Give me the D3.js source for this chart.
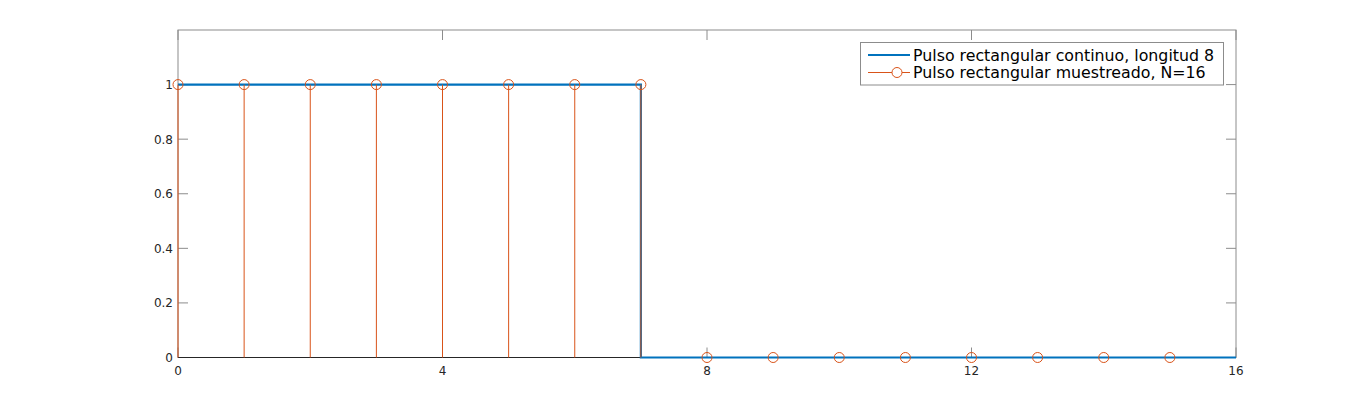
<!DOCTYPE html>
<html><head><meta charset="utf-8">
<script src="https://cdn.jsdelivr.net/npm/d3@7"></script>
<style>body{margin:0;background:#fff}svg{display:block}text{font-family:"DejaVu Sans",sans-serif}</style>
</head><body><svg id="c" width="1366" height="402"></svg>
<script>
// continuous pulse (step outline)
const contX = [0, 7, 7, 16];
const contY = [1, 1, 0, 0];
// sampled pulse, N=16
const sampN = [0,1,2,3,4,5,6,7,8,9,10,11,12,13,14,15];
const sampV = [1,1,1,1,1,1,1,1,0,0,0,0,0,0,0,0];
const xTicks = [0,4,8,12,16];
const yTicks = [0,0.2,0.4,0.6,0.8,1];
const legendLabels = ["Pulso rectangular continuo, longitud 8","Pulso rectangular muestreado, N=16"];

const svg = d3.select("#c");
const L=178, R=1236, T=30, B=357.5;
const x = d3.scaleLinear().domain([0,16]).range([L,R]);
const y = d3.scaleLinear().domain([0,1.2]).range([B,T]);
const blue="#0072BD", orange="#D95319", ax="#262626";

// box
svg.append("rect").attr("x",L).attr("y",T).attr("width",R-L).attr("height",B-T)
  .attr("fill","#fff").attr("stroke","#8c8c8c").attr("stroke-width",1);

// ticks
const g = svg.append("g");
xTicks.forEach(t=>{
  g.append("line").attr("x1",x(t)).attr("x2",x(t)).attr("y1",B).attr("y2",B-10).attr("stroke","#8c8c8c");
  g.append("line").attr("x1",x(t)).attr("x2",x(t)).attr("y1",T).attr("y2",T+10).attr("stroke","#8c8c8c");
  g.append("text").attr("x",x(t)).attr("y",B+17).attr("text-anchor","middle").attr("font-size",12).attr("fill",ax).text(t);
});
yTicks.forEach(t=>{
  g.append("line").attr("x1",L).attr("x2",L+10).attr("y1",y(t)).attr("y2",y(t)).attr("stroke","#8c8c8c");
  g.append("line").attr("x1",R).attr("x2",R-10).attr("y1",y(t)).attr("y2",y(t)).attr("stroke","#8c8c8c");
  g.append("text").attr("x",L-5).attr("y",y(t)+4.5).attr("text-anchor","end").attr("font-size",12).attr("fill",ax).text(t);
});
// bottom axis line darker
svg.append("line").attr("x1",L).attr("x2",R).attr("y1",B).attr("y2",B).attr("stroke",ax);

// continuous line
const line = d3.line().x(d=>x(d[0])).y(d=>y(d[1]));
svg.append("path").datum(contX.map((v,i)=>[v,contY[i]])).attr("d",line)
  .attr("fill","none").attr("stroke",blue).attr("stroke-width",2.2);

// stems
const sg = svg.append("g");
sampN.forEach((n,i)=>{
  sg.append("line").attr("x1",x(n)).attr("x2",x(n)).attr("y1",y(0)).attr("y2",y(sampV[i]))
    .attr("stroke",orange).attr("stroke-width",1);
  sg.append("circle").attr("cx",x(n)).attr("cy",y(sampV[i])).attr("r",5)
    .attr("fill","none").attr("stroke",orange).attr("stroke-width",1);
});

// legend
const lg = svg.append("g");
lg.append("rect").attr("x",860.5).attr("y",42.5).attr("width",363).attr("height",42.5)
  .attr("fill","#fff").attr("stroke","#8c8c8c").attr("stroke-width",1);
lg.append("line").attr("x1",868).attr("x2",910).attr("y1",55).attr("y2",55).attr("stroke",blue).attr("stroke-width",2.2);
lg.append("line").attr("x1",868).attr("x2",910).attr("y1",72.5).attr("y2",72.5).attr("stroke",orange).attr("stroke-width",1);
lg.append("circle").attr("cx",897).attr("cy",72.5).attr("r",5).attr("fill","#fff").attr("stroke",orange);
legendLabels.forEach((s,i)=>{
  lg.append("text").attr("x",913).attr("y",55+i*17.5+5.5).attr("font-size",15.8).attr("fill","#000").text(s);
});
</script></body></html>
